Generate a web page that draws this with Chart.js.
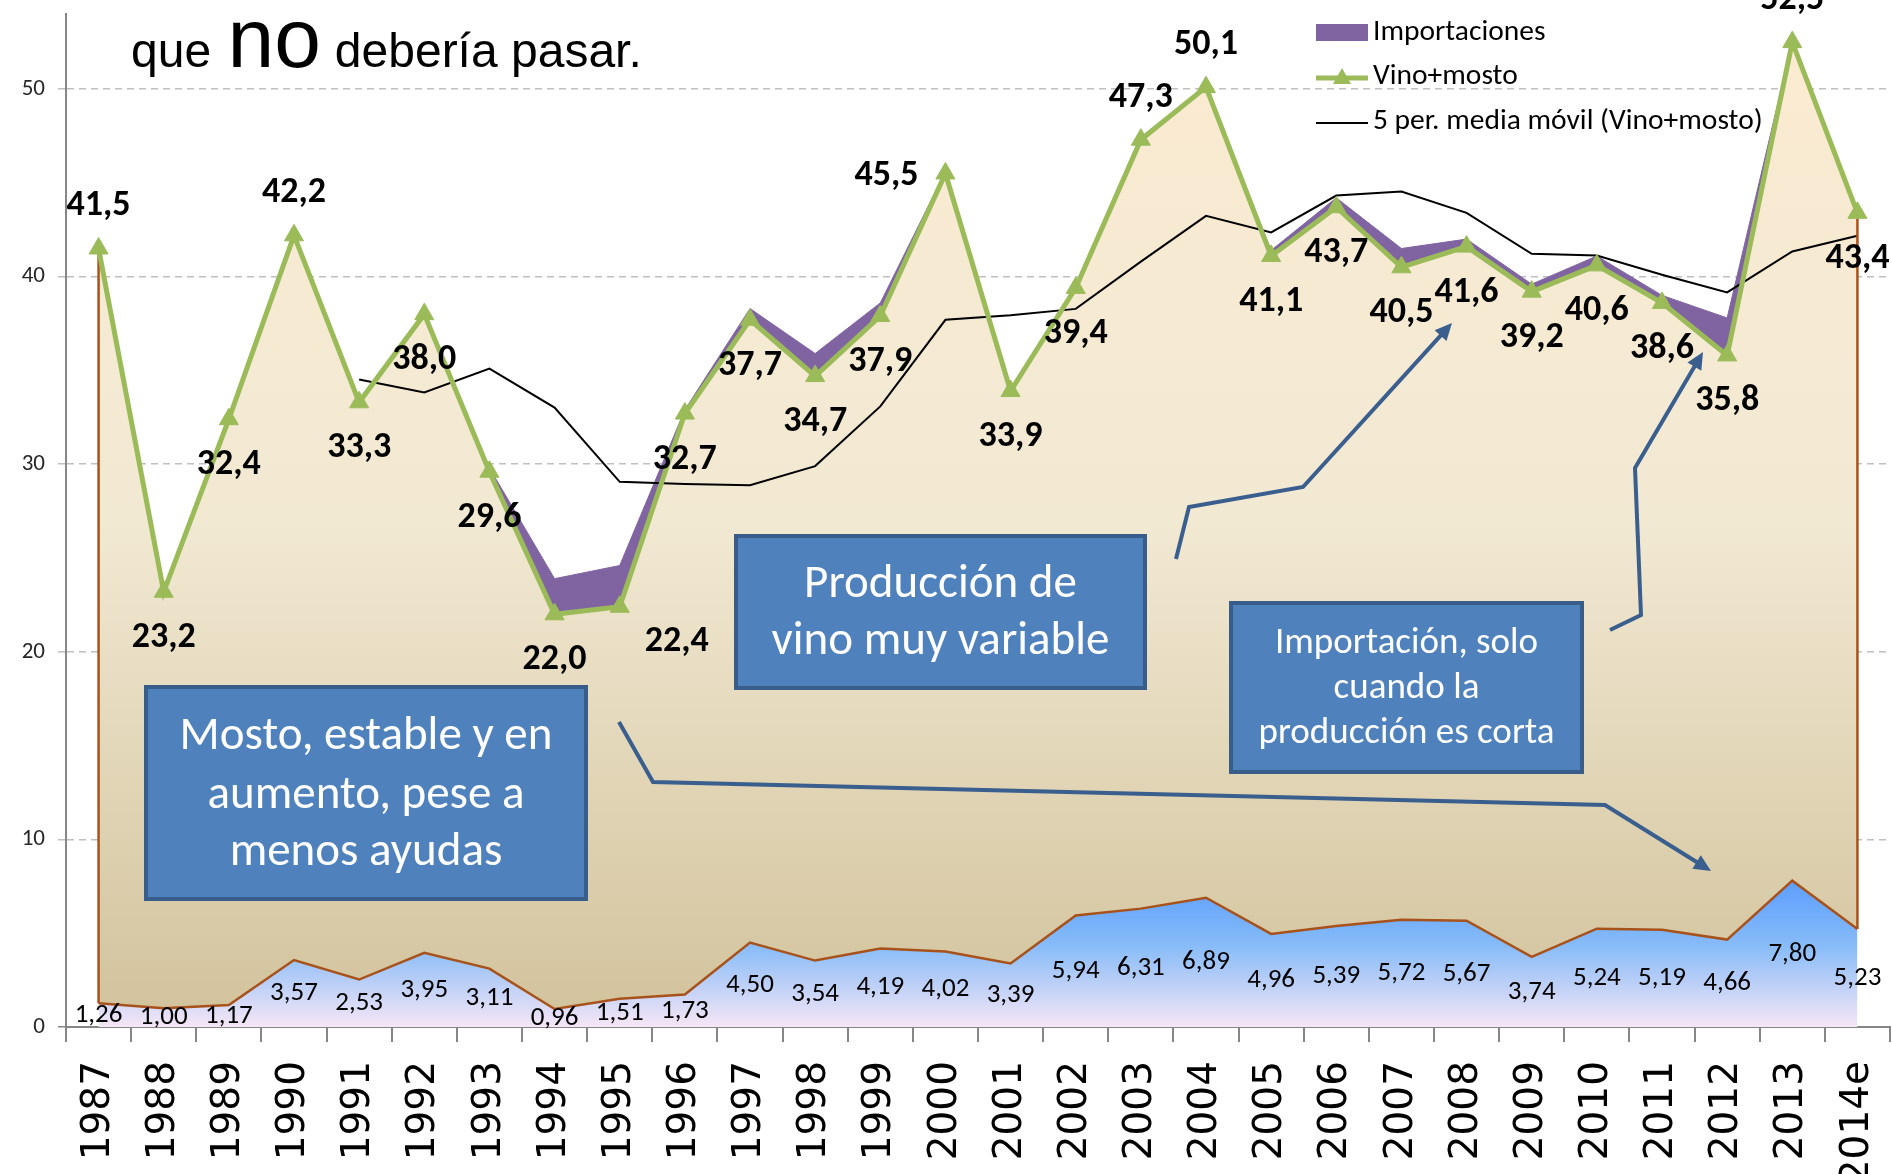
<!DOCTYPE html>
<html lang="es">
<head>
    <meta charset="UTF-8">
    <title>Vino + mosto e importaciones</title>
    <script src="https://cdn.jsdelivr.net/npm/chart.js@4.4.1/dist/chart.umd.min.js"></script>
    <style>
        html, body { margin: 0; padding: 0; background: #fff; }
        #wrap { width: 1892px; height: 1174px; }
    </style>
</head>
<body>
<div id="wrap"><canvas id="chart" width="1892" height="1174"></canvas></div>

<script>
    // --- data ---
    const years = ['1987', '1988', '1989', '1990', '1991', '1992', '1993', '1994', '1995', '1996',
        '1997', '1998', '1999', '2000', '2001', '2002', '2003', '2004', '2005', '2006',
        '2007', '2008', '2009', '2010', '2011', '2012', '2013', '2014e'];

    const vinoMosto = [41.5, 23.2, 32.4, 42.2, 33.3, 38.0, 29.6, 22.0, 22.4, 32.7,
        37.7, 34.7, 37.9, 45.5, 33.9, 39.4, 47.3, 50.1, 41.1, 43.7,
        40.5, 41.6, 39.2, 40.6, 38.6, 35.8, 52.5, 43.4];

    const mosto = [1.26, 1.00, 1.17, 3.57, 2.53, 3.95, 3.11, 0.96, 1.51, 1.73,
        4.50, 3.54, 4.19, 4.02, 3.39, 5.94, 6.31, 6.89, 4.96, 5.39,
        5.72, 5.67, 3.74, 5.24, 5.19, 4.66, 7.80, 5.23];

    const importaciones = [0, 0, 0, 0, 0, 0, 0.2, 1.9, 2.2, 0.2,
        0.6, 1.2, 0.7, 0.1, 0, 0, 0, 0, 0.3, 0.5,
        1.0, 0.4, 0.4, 0.5, 0.4, 2.0, 0, 0];

    const mediaMovil = [null, null, null, null, 34.52, 33.82, 35.10, 33.02, 29.06, 28.94,
        28.88, 29.90, 33.08, 37.70, 37.94, 38.28, 40.80, 43.24, 42.36, 44.32,
        44.54, 43.40, 41.22, 41.12, 40.10, 39.16, 41.34, 42.18];

    const yTicks = [0, 10, 20, 30, 40, 50];

    // where each Vino+mosto value label sits relative to its point
    const labelSide = ['up', 'down', 'down', 'up', 'down', 'down', 'down', 'down', 'right', 'down',
        'down', 'down', 'down', 'left', 'down', 'down', 'up', 'up', 'down', 'down',
        'down', 'down', 'down', 'down', 'down', 'down', 'up', 'down'];

    const CAL = 'Carlito, Lato, "Liberation Sans", sans-serif';
    const BROWN = '#A8521B';
    const GREEN = '#9BBB59';
    const PURPLE = '#8064A2';
    const fmt = (v, d) => v.toFixed(d).replace('.', ',');

    function beigeFill(c) {
        const {chart} = c;
        if (!chart.chartArea) return '#F3E8CF';
        const y = chart.scales.y;
        const g = chart.ctx.createLinearGradient(0, y.getPixelForValue(54), 0, y.getPixelForValue(0));
        g.addColorStop(0, '#FBEBD1');
        g.addColorStop(0.5, '#F2E9D3');
        g.addColorStop(1, '#D1C29B');
        return g;
    }

    function blueFill(c) {
        const {chart} = c;
        if (!chart.chartArea) return '#8DBBF5';
        const y = chart.scales.y;
        const g = chart.ctx.createLinearGradient(0, y.getPixelForValue(8), 0, y.getPixelForValue(0));
        g.addColorStop(0, '#5A9CFF');
        g.addColorStop(0.45, '#86BBF8');
        g.addColorStop(1, '#F6E6F6');
        return g;
    }

    // annotation boxes and arrows (pixel layout of the slide)
    const boxes = [
        {x: 146, y: 687, w: 440, h: 212, size: 47, lines: ['Mosto, estable y en', 'aumento, pese a', 'menos ayudas'], lineY: [737, 796, 853]},
        {x: 736, y: 536, w: 409, h: 152, size: 47, lines: ['Producción de', 'vino muy variable'], lineY: [585, 642]},
        {x: 1231, y: 603, w: 351, h: 169, size: 37, lines: ['Importación, solo', 'cuando la', 'producción es corta'], lineY: [644, 689, 734]}
    ];
    const arrows = [
        [[619, 722], [653, 782], [1605, 805], [1711, 871]],
        [[1176, 559], [1189, 507], [1303, 487], [1452, 323]],
        [[1610, 630], [1641, 615], [1635, 468], [1703, 352]]
    ];

    function drawArrow(ctx, pts) {
        const n = pts.length;
        const [tx, ty] = pts[n - 1];
        const [px, py] = pts[n - 2];
        const ang = Math.atan2(ty - py, tx - px);
        const head = 17, half = 8;
        ctx.save();
        ctx.strokeStyle = '#3A5F8E';
        ctx.fillStyle = '#3A5F8E';
        ctx.lineWidth = 4;
        ctx.lineJoin = 'miter';
        ctx.beginPath();
        ctx.moveTo(pts[0][0], pts[0][1]);
        for (let i = 1; i < n - 1; i++) ctx.lineTo(pts[i][0], pts[i][1]);
        ctx.lineTo(tx - Math.cos(ang) * head * 0.8, ty - Math.sin(ang) * head * 0.8);
        ctx.stroke();
        ctx.beginPath();
        ctx.moveTo(tx, ty);
        ctx.lineTo(tx - Math.cos(ang) * head - Math.sin(ang) * half, ty - Math.sin(ang) * head + Math.cos(ang) * half);
        ctx.lineTo(tx - Math.cos(ang) * head + Math.sin(ang) * half, ty - Math.sin(ang) * head - Math.cos(ang) * half);
        ctx.closePath();
        ctx.fill();
        ctx.restore();
    }

    const overlay = {
        id: 'overlay',
        beforeDatasetDraw(chart, args) {
            if (args.index !== 3) return;
            // brown side edges of the wine area
            const {ctx, scales: {x, y}} = chart;
            ctx.save();
            ctx.strokeStyle = BROWN;
            ctx.lineWidth = 2.5;
            [0, years.length - 1].forEach(i => {
                const px = x.getPixelForValue(i);
                ctx.beginPath();
                ctx.moveTo(px, y.getPixelForValue(mosto[i]));
                ctx.lineTo(px, y.getPixelForValue(vinoMosto[i]));
                ctx.stroke();
            });
            ctx.restore();
        },
        afterDatasetsDraw(chart) {
            const {ctx, scales: {x, y}} = chart;
            ctx.save();
            ctx.textAlign = 'center';
            ctx.textBaseline = 'middle';
            ctx.fillStyle = '#000';

            // mosto labels, centred in their area
            ctx.font = '27px ' + CAL;
            mosto.forEach((v, i) => {
                ctx.fillText(fmt(v, 2), x.getPixelForValue(i), y.getPixelForValue(v / 2));
            });

            // vino+mosto labels
            ctx.font = 'bold 36px ' + CAL;
            chart.getDatasetMeta(3).data.forEach((pt, i) => {
                let lx = pt.x, ly = pt.y;
                switch (labelSide[i]) {
                    case 'up': ly -= 42; break;
                    case 'down': ly += 46; break;
                    case 'right': lx += 57; ly += 35; break;
                    case 'left': lx -= 59; ly += 3; break;
                }
                ctx.fillText(fmt(vinoMosto[i], 1), lx, ly);
            });
            ctx.restore();
        },
        afterDraw(chart) {
            const ctx = chart.ctx;
            ctx.save();

            // title fragment
            ctx.fillStyle = '#000';
            ctx.textBaseline = 'alphabetic';
            ctx.textAlign = 'left';
            let tx = 131;
            ctx.font = '48px "Liberation Sans", Arial, sans-serif';
            ctx.fillText('que', tx, 67);
            tx += ctx.measureText('que ').width + 3;
            ctx.font = '84px "Liberation Sans", Arial, sans-serif';
            ctx.fillText('no', tx, 67);
            tx += ctx.measureText('no').width + 14;
            ctx.font = '48px "Liberation Sans", Arial, sans-serif';
            ctx.fillText('debería pasar.', tx, 67);

            // arrows
            arrows.forEach(a => drawArrow(ctx, a));

            // boxes
            boxes.forEach(b => {
                ctx.fillStyle = '#4F81BD';
                ctx.fillRect(b.x, b.y, b.w, b.h);
                ctx.strokeStyle = '#385D8A';
                ctx.lineWidth = 4;
                ctx.strokeRect(b.x, b.y, b.w, b.h);
                ctx.fillStyle = '#fff';
                ctx.textAlign = 'center';
                ctx.textBaseline = 'middle';
                ctx.font = b.size + 'px ' + CAL;
                b.lines.forEach((t, i) => ctx.fillText(t, b.x + b.w / 2, b.lineY[i]));
            });

            // legend
            ctx.textAlign = 'left';
            ctx.textBaseline = 'middle';
            ctx.font = '29.5px ' + CAL;
            ctx.fillStyle = PURPLE;
            ctx.fillRect(1316, 24, 52, 17);
            ctx.strokeStyle = GREEN;
            ctx.lineWidth = 5;
            ctx.beginPath(); ctx.moveTo(1316, 78); ctx.lineTo(1368, 78); ctx.stroke();
            ctx.fillStyle = GREEN;
            ctx.beginPath();
            ctx.moveTo(1342, 68); ctx.lineTo(1351, 84); ctx.lineTo(1333, 84); ctx.closePath(); ctx.fill();
            ctx.strokeStyle = '#000';
            ctx.lineWidth = 2;
            ctx.beginPath(); ctx.moveTo(1316, 123); ctx.lineTo(1368, 123); ctx.stroke();
            ctx.fillStyle = '#000';
            ctx.fillText('Importaciones', 1373, 33);
            ctx.fillText('Vino+mosto', 1373, 77);
            ctx.fillText('5 per. media móvil (Vino+mosto)', 1373, 122);

            ctx.restore();
        }
    };

    new Chart(document.getElementById('chart'), {
        type: 'line',
        data: {
            labels: years,
            datasets: [
                {
                    label: 'Mosto',
                    data: mosto,
                    fill: 'origin',
                    order: 3,
                    borderColor: BROWN,
                    borderWidth: 2.5,
                    backgroundColor: blueFill,
                    pointRadius: 0
                },
                {
                    label: 'Vino',
                    data: vinoMosto,
                    fill: '-1',
                    order: 5,
                    borderColor: 'rgba(0,0,0,0)',
                    borderWidth: 1,
                    backgroundColor: beigeFill,
                    pointRadius: 0
                },
                {
                    label: 'Importaciones',
                    data: vinoMosto.map((v, i) => v + importaciones[i]),
                    fill: '-1',
                    order: 4,
                    borderColor: PURPLE,
                    borderWidth: 1,
                    backgroundColor: PURPLE,
                    pointRadius: 0
                },
                {
                    label: 'Vino+mosto',
                    data: vinoMosto,
                    fill: false,
                    order: 1,
                    borderColor: GREEN,
                    borderWidth: 5,
                    pointStyle: 'triangle',
                    pointRadius: 11,
                    pointBackgroundColor: GREEN,
                    pointBorderColor: GREEN,
                    pointBorderWidth: 1
                },
                {
                    label: '5 per. media móvil (Vino+mosto)',
                    data: mediaMovil,
                    fill: false,
                    order: 2,
                    borderColor: '#000',
                    borderWidth: 2,
                    pointRadius: 0
                }
            ]
        },
        options: {
            responsive: false,
            animation: false,
            events: [],
            layout: {autoPadding: false, padding: {top: 14, right: 2, left: 0, bottom: 0}},
            elements: {line: {tension: 0}},
            plugins: {
                legend: {display: false},
                tooltip: {enabled: false}
            },
            scales: {
                x: {
                    offset: true,
                    grid: {offset: true, drawOnChartArea: false, drawTicks: true, tickLength: 15, color: '#868686', lineWidth: 2},
                    border: {color: '#868686', width: 2},
                    ticks: {
                        autoSkip: false, maxRotation: 90, minRotation: 90, padding: 19,
                        color: '#000', font: {family: '"DejaVu Sans"', size: 39}
                    },
                    afterFit: s => { s.height = 147; s.paddingLeft = 0; s.paddingRight = 0; }
                },
                y: {
                    min: 0,
                    max: 54,
                    afterBuildTicks: ax => { ax.ticks = yTicks.map(v => ({value: v})); },
                    ticks: {padding: 13, color: '#262626', font: {family: CAL, size: 23}},
                    grid: {
                        color: c => (c.tick && c.tick.value === 0) ? 'rgba(0,0,0,0)' : '#BFBFBF',
                        tickColor: c => (c.tick && c.tick.value === 0) ? '#868686' : '#BFBFBF',
                        lineWidth: 1.5,
                        tickLength: 8
                    },
                    border: {color: '#868686', width: 2, dash: [7, 5]},
                    afterFit: s => { s.width = 66; s.paddingTop = 0; s.paddingBottom = 0; }
                }
            }
        },
        plugins: [overlay]
    });
</script>
</body>
</html>
